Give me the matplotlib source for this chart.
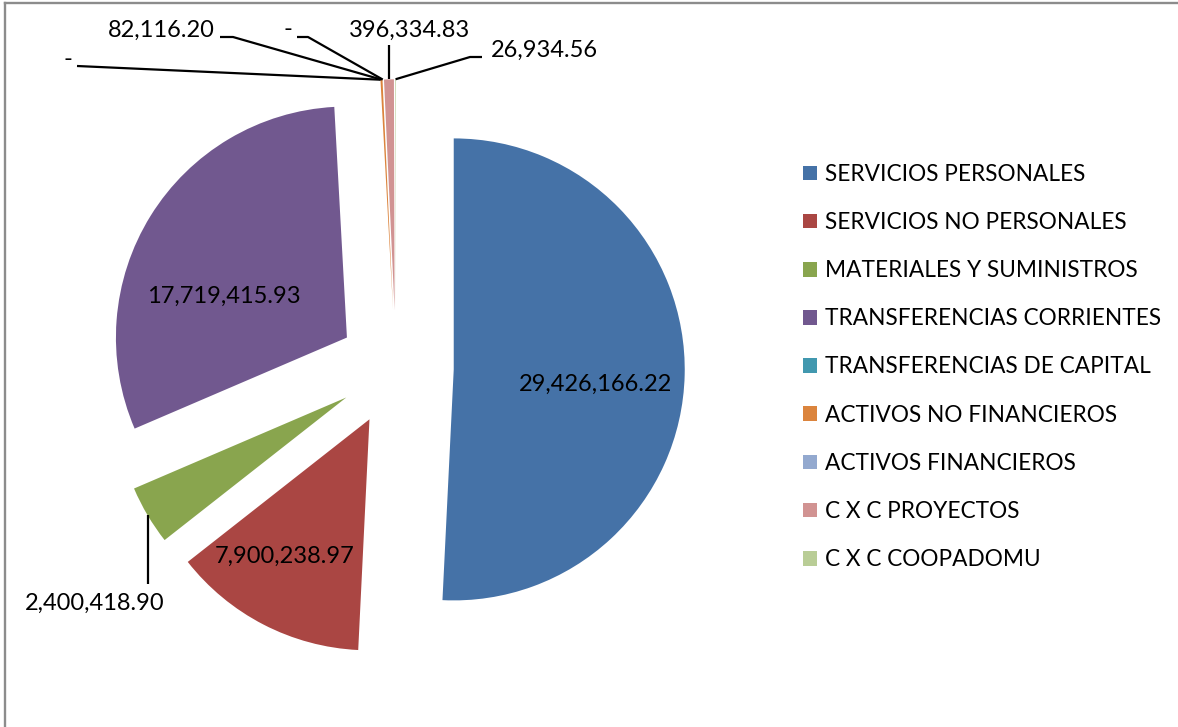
import matplotlib
matplotlib.use("Agg")
import matplotlib.pyplot as plt
from matplotlib.lines import Line2D
import numpy as np

categories = ["SERVICIOS PERSONALES", "SERVICIOS NO PERSONALES", "MATERIALES Y SUMINISTROS",
              "TRANSFERENCIAS CORRIENTES", "TRANSFERENCIAS DE CAPITAL", "ACTIVOS NO FINANCIEROS",
              "ACTIVOS FINANCIEROS", "C X C PROYECTOS", "C X C COOPADOMU"]
values = [29426166.22, 7900238.97, 2400418.90, 17719415.93, 0.0, 82116.20, 0.0, 396334.83, 26934.56]
colors = ["#4572A7", "#AA4643", "#89A54E", "#71588F", "#4198AF", "#DB843D", "#93A9CF", "#D19392", "#B9CD96"]

W, H = 1178, 727
CX, CY, R = 396, 368, 231
plt.rcParams['font.family'] = ['Lato', 'DejaVu Sans']
FS = 17
LFS = 16.3

fig = plt.figure(figsize=(W / 100, H / 100), dpi=100)
ax = fig.add_axes([0, 0, 1, 1])
wedges, _ = ax.pie(values, colors=colors, startangle=90, counterclock=False,
                   explode=[0.25] * len(values), radius=1.0,
                   wedgeprops=dict(linewidth=0))
ax.set_xlim(-CX / R, (W - CX) / R)
ax.set_ylim(-(H - CY) / R, CY / R)
ax.axis('off')


def px(x, y):
    return ((x - CX) / R, (CY - y) / R)


def anchor(w):
    m = np.deg2rad((w.theta1 + w.theta2) / 2)
    return (w.center[0] + w.r * np.cos(m), w.center[1] + w.r * np.sin(m))


labels = [f"{v:,.2f}" if v else "-" for v in values]

# inside labels
inside_pos = {0: (596, 384), 1: (285, 556), 3: (224, 296)}
for i, (x, y) in inside_pos.items():
    ax.text(*px(x, y), labels[i], ha='center', va='center', fontsize=FS, color='black')


def leader(pts):
    xs = [p[0] for p in pts]
    ys = [p[1] for p in pts]
    ax.plot(xs, ys, color='black', lw=1.6, solid_capstyle='butt')


# green label
a = anchor(wedges[2])
leader([a, (a[0], px(0, 584)[1])])
ax.text(*px(95, 603), labels[2], ha='center', va='center', fontsize=FS)

# top small labels
a = anchor(wedges[4])
leader([px(77, 66), a])
ax.text(*px(68, 59), labels[4], ha='center', va='center', fontsize=FS)

a = anchor(wedges[5])
leader([px(220, 37), px(233, 37), a])
ax.text(*px(161, 30), labels[5], ha='center', va='center', fontsize=FS)

a = anchor(wedges[6])
leader([px(297, 37), px(308, 37), a])
ax.text(*px(288, 30), labels[6], ha='center', va='center', fontsize=FS)

a = anchor(wedges[7])
leader([(a[0], px(0, 45)[1]), a])
ax.text(*px(410, 30), labels[7], ha='center', va='center', fontsize=FS)

a = anchor(wedges[8])
leader([a, px(470, 57), px(482, 57)])
ax.text(*px(544, 50), labels[8], ha='center', va='center', fontsize=FS)

# legend
leg = ax.legend(wedges, categories, loc='center left',
                bbox_to_anchor=(803 / W, 1 - 367 / H), bbox_transform=fig.transFigure,
                frameon=False, fontsize=LFS, labelspacing=1.2, handlelength=0.62,
                handleheight=0.62, handletextpad=0.36, borderpad=0, borderaxespad=0)

# chart border (top & left visible)
fig.add_artist(Line2D([5 / W, 5 / W], [0, 1 - 2.5 / H], transform=fig.transFigure,
                      color='#8C8C8C', lw=1.7))
fig.add_artist(Line2D([5 / W, 1], [1 - 2.5 / H, 1 - 2.5 / H], transform=fig.transFigure,
                      color='#8C8C8C', lw=1.7))

fig.savefig("out.png", dpi=100)
